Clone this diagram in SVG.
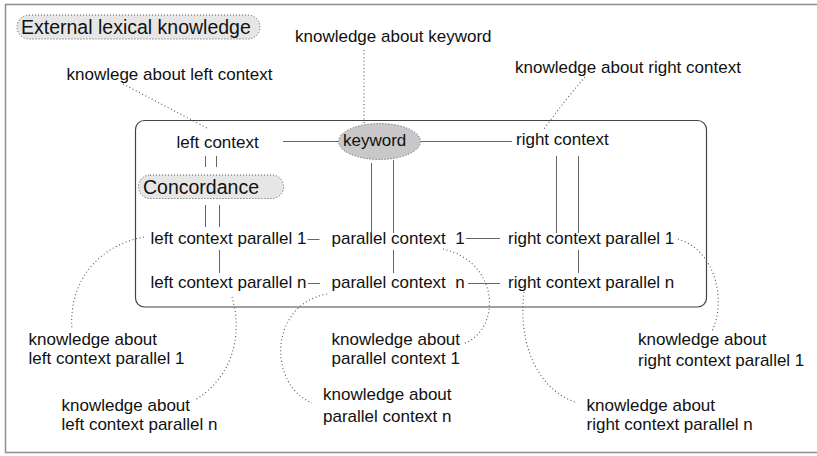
<svg xmlns="http://www.w3.org/2000/svg" width="817" height="456" viewBox="0 0 817 456">
  <style>
    text { font-family: "Liberation Sans", Arial, sans-serif; font-size: 17px; fill: #111; }
    text.big { font-size: 19.5px; }
    .frame { fill: none; stroke: #8e8e8e; stroke-width: 1.5; }
    .box { fill: none; stroke: #444; stroke-width: 1.2; }
    .pill { fill: #e6e6e6; stroke: #555; stroke-width: 1; stroke-dasharray: 1 2; }
    .kw { fill: #c8c8c8; stroke: #555; stroke-width: 1; stroke-dasharray: 1 2; }
    .link { fill: none; stroke: #666; stroke-width: 1; }
    .know { fill: none; stroke: #555; stroke-width: 1.1; stroke-dasharray: 1 2.6; }
  </style>

  <rect class="frame" x="5.5" y="4.5" width="813" height="448"/>
  <rect class="box" x="135.5" y="120.5" width="571" height="186.5" rx="9"/>

  <g id="external-lexical-knowledge">
    <rect class="pill" x="17" y="15" width="243" height="24" rx="12"/>
    <text class="big" x="21" y="34">External lexical knowledge</text>
  </g>

  <g id="concordance">
    <rect class="pill" x="138.5" y="175" width="145" height="23.5" rx="11.5"/>
    <text class="big" x="143" y="193.5">Concordance</text>
  </g>

  <g id="keyword">
    <ellipse class="kw" cx="379.5" cy="141.5" rx="41" ry="18"/>
    <text x="343" y="146">keyword</text>
  </g>

  <g id="left-context"><text x="176.5" y="148">left context</text></g>
  <g id="right-context"><text x="516" y="145">right context</text></g>

  <g id="left-context-parallel-1"><text x="150.5" y="244">left context parallel 1</text></g>
  <g id="parallel-context-1"><text x="331.5" y="244" xml:space="preserve">parallel context  1</text></g>
  <g id="right-context-parallel-1"><text x="508" y="244">right context parallel 1</text></g>

  <g id="left-context-parallel-n"><text x="150.5" y="288">left context parallel n</text></g>
  <g id="parallel-context-n"><text x="331.5" y="288" xml:space="preserve">parallel context  n</text></g>
  <g id="right-context-parallel-n"><text x="508" y="288">right context parallel n</text></g>

  <g id="k-keyword"><text x="295" y="42">knowledge about keyword</text></g>
  <g id="k-left-context"><text x="66.5" y="80">knowlege about left context</text></g>
  <g id="k-right-context"><text x="515" y="73">knowledge about right context</text></g>
  <g id="k-left-parallel-1">
    <text x="28.5" y="345">knowledge about</text>
    <text x="28.5" y="364">left context parallel 1</text>
  </g>
  <g id="k-left-parallel-n">
    <text x="61.5" y="411">knowledge about</text>
    <text x="61.5" y="430">left context parallel n</text>
  </g>
  <g id="k-parallel-1">
    <text x="331.5" y="345">knowledge about</text>
    <text x="331.5" y="364">parallel context 1</text>
  </g>
  <g id="k-parallel-n">
    <text x="323" y="400">knowledge about</text>
    <text x="323" y="422">parallel context n</text>
  </g>
  <g id="k-right-parallel-1">
    <text x="638" y="345">knowledge about</text>
    <text x="638" y="366">right context parallel 1</text>
  </g>
  <g id="k-right-parallel-n">
    <text x="586.5" y="411">knowledge about</text>
    <text x="586.5" y="430">right context parallel n</text>
  </g>

  <g id="connectors">
    <!-- structural links -->
    <line class="link" x1="283" y1="141.5" x2="338.5" y2="141.5"/>
    <line class="link" x1="420.5" y1="141.5" x2="512" y2="141.5"/>
    <line class="link" x1="205.5" y1="156" x2="205.5" y2="167"/>
    <line class="link" x1="216.5" y1="156" x2="216.5" y2="167"/>
    <line class="link" x1="205.5" y1="205" x2="205.5" y2="227"/>
    <line class="link" x1="219.5" y1="205" x2="219.5" y2="227"/>
    <line class="link" x1="219.5" y1="250" x2="219.5" y2="273"/>
    <line class="link" x1="371.5" y1="163" x2="371.5" y2="233"/>
    <line class="link" x1="393.5" y1="160" x2="393.5" y2="233"/>
    <line class="link" x1="393.5" y1="250" x2="393.5" y2="273"/>
    <line class="link" x1="556.5" y1="156" x2="556.5" y2="233"/>
    <line class="link" x1="578.5" y1="156" x2="578.5" y2="233"/>
    <line class="link" x1="578.5" y1="250" x2="578.5" y2="273"/>
    <line class="link" x1="307.5" y1="239.5" x2="319.5" y2="239.5"/>
    <line class="link" x1="466" y1="238.5" x2="500" y2="238.5"/>
    <line class="link" x1="308" y1="283.5" x2="320" y2="283.5"/>
    <line class="link" x1="468" y1="283.5" x2="500" y2="283.5"/>

    <!-- knowledge links -->
    <path class="know" d="M123 84 L207 128"/>
    <path class="know" d="M364 50 L364 125"/>
    <path class="know" d="M585 77 Q565 100 544 129"/>
    <path class="know" d="M144 237 C100 245 68 280 72 330"/>
    <path class="know" d="M232 297 C242 330 236 375 195 400"/>
    <path class="know" d="M443 249 C500 262 502 330 463 344"/>
    <path class="know" d="M327 294 C268 305 268 385 312 403"/>
    <path class="know" d="M678 239 C715 250 727 300 712 331"/>
    <path class="know" d="M524 292 C518 340 535 388 575 402"/>
  </g>
</svg>
